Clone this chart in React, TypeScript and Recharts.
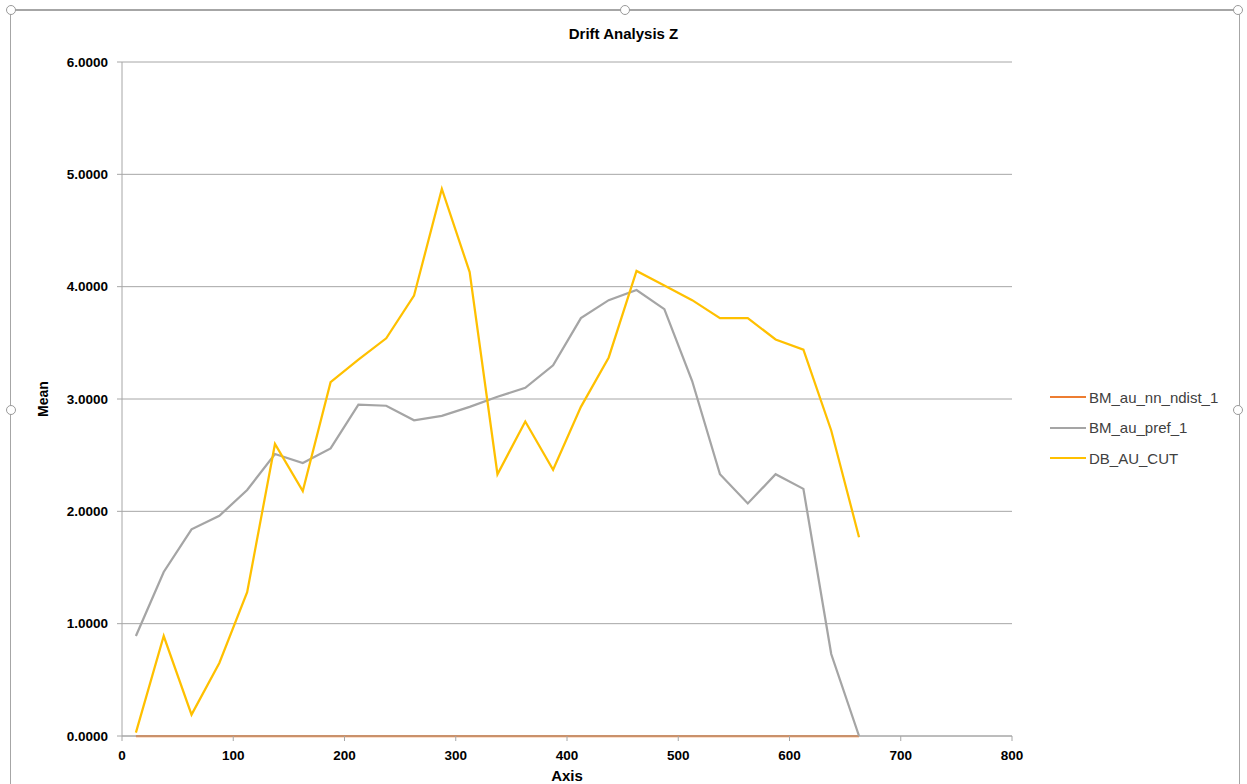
import { LineChart, Line, XAxis, YAxis, CartesianGrid } from 'recharts';

const xValues = [12.5, 37.5, 62.5, 87.5, 112.5, 137.5, 162.5, 187.5, 212.5, 237.5, 262.5, 287.5, 312.5, 337.5, 362.5, 387.5, 412.5, 437.5, 462.5, 487.5, 512.5, 537.5, 562.5, 587.5, 612.5, 637.5, 662.5];
const nnDist = [0, 0, 0, 0, 0, 0, 0, 0, 0, 0, 0, 0, 0, 0, 0, 0, 0, 0, 0, 0, 0, 0, 0, 0, 0, 0, 0];
const pref = [0.89, 1.46, 1.84, 1.96, 2.19, 2.51, 2.43, 2.56, 2.95, 2.94, 2.81, 2.85, 2.93, 3.02, 3.10, 3.30, 3.72, 3.88, 3.97, 3.80, 3.16, 2.33, 2.07, 2.33, 2.20, 0.73, 0];
const auCut = [0.03, 0.89, 0.19, 0.65, 1.28, 2.60, 2.18, 3.15, 3.35, 3.54, 3.92, 4.87, 4.13, 2.33, 2.80, 2.37, 2.93, 3.37, 4.14, 4.01, 3.88, 3.72, 3.72, 3.53, 3.44, 2.72, 1.77];
const xTicks = [0, 100, 200, 300, 400, 500, 600, 700, 800];
const yTicks = [0, 1, 2, 3, 4, 5, 6];

const series = [
  { key: 'nn', name: 'BM_au_nn_ndist_1', color: '#ED7D31' },
  { key: 'pref', name: 'BM_au_pref_1', color: '#A5A5A5' },
  { key: 'cut', name: 'DB_AU_CUT', color: '#FFC000' },
];

const rows = xValues.map((x, i) => ({ x, nn: nnDist[i], pref: pref[i], cut: auCut[i] }));

const font = '"Liberation Sans", Arial, sans-serif';
const tickStyle = { fontFamily: font, fontSize: 13.5, fontWeight: 700, fill: '#000' };

function Handle({ x, y }: { x: number; y: number }) {
  return (
    <div style={{ position: 'absolute', left: x - 5, top: y - 5, width: 8, height: 8, borderRadius: '50%', border: '1px solid #9a9a9a', background: '#fff' }} />
  );
}

export default function App() {
  return (
    <div style={{ position: 'absolute', left: 0, top: 0, width: 1247, height: 784, overflow: 'hidden', background: '#fff' }}>
      <div style={{ position: 'absolute', left: 10, top: 9, width: 1228, height: 800, borderLeft: '1.5px solid #a6a6a6', borderRight: '1.5px solid #a6a6a6', borderTop: '2px solid #a6a6a6' }} />
      <Handle x={11} y={10} />
      <Handle x={625} y={10} />
      <Handle x={1238} y={10} />
      <Handle x={11} y={410} />
      <Handle x={1238} y={410} />
      <div style={{ position: 'absolute', left: 0, top: 25, width: 1247, textAlign: 'center', fontFamily: font, fontSize: 15, fontWeight: 700, color: '#000' }}>
        Drift Analysis Z
      </div>
      <div style={{ position: 'absolute', left: 0, top: 0 }}>
        <LineChart width={1247} height={784} data={rows} margin={{ top: 62, right: 235, left: 0, bottom: 0 }}>
          <CartesianGrid vertical={false} stroke="#a6a6a6" strokeWidth={1} />
          <XAxis
            dataKey="x"
            type="number"
            domain={[0, 800]}
            ticks={xTicks}
            height={48}
            stroke="#a6a6a6"
            tickSize={5}
            tickMargin={9}
            tick={tickStyle}
            label={{ value: 'Axis', position: 'insideBottom', offset: 3, style: { ...tickStyle, fontSize: 15 } }}
          />
          <YAxis
            type="number"
            domain={[0, 6]}
            ticks={yTicks}
            width={122}
            stroke="#a6a6a6"
            tickSize={5}
            tickMargin={9}
            tick={tickStyle}
            tickFormatter={(v: number) => v.toFixed(4)}
            label={{ value: 'Mean', angle: -90, position: 'insideLeft', offset: 43, style: { ...tickStyle, fontSize: 14, textAnchor: 'middle' } }}
          />
          {series.map((s) => (
            <Line key={s.key} dataKey={s.key} name={s.name} type="linear" stroke={s.color} strokeWidth={2.25} dot={false} isAnimationActive={false} />
          ))}
        </LineChart>
      </div>
      <div style={{ position: 'absolute', left: 1050, top: 382 }}>
        {series.map((s) => (
          <div key={s.key} style={{ display: 'flex', alignItems: 'center', height: 30.5 }}>
            <div style={{ width: 36, height: 2, background: s.color, marginRight: 3 }} />
            <span style={{ fontFamily: font, fontSize: 15, color: '#404040' }}>{s.name}</span>
          </div>
        ))}
      </div>
    </div>
  );
}
